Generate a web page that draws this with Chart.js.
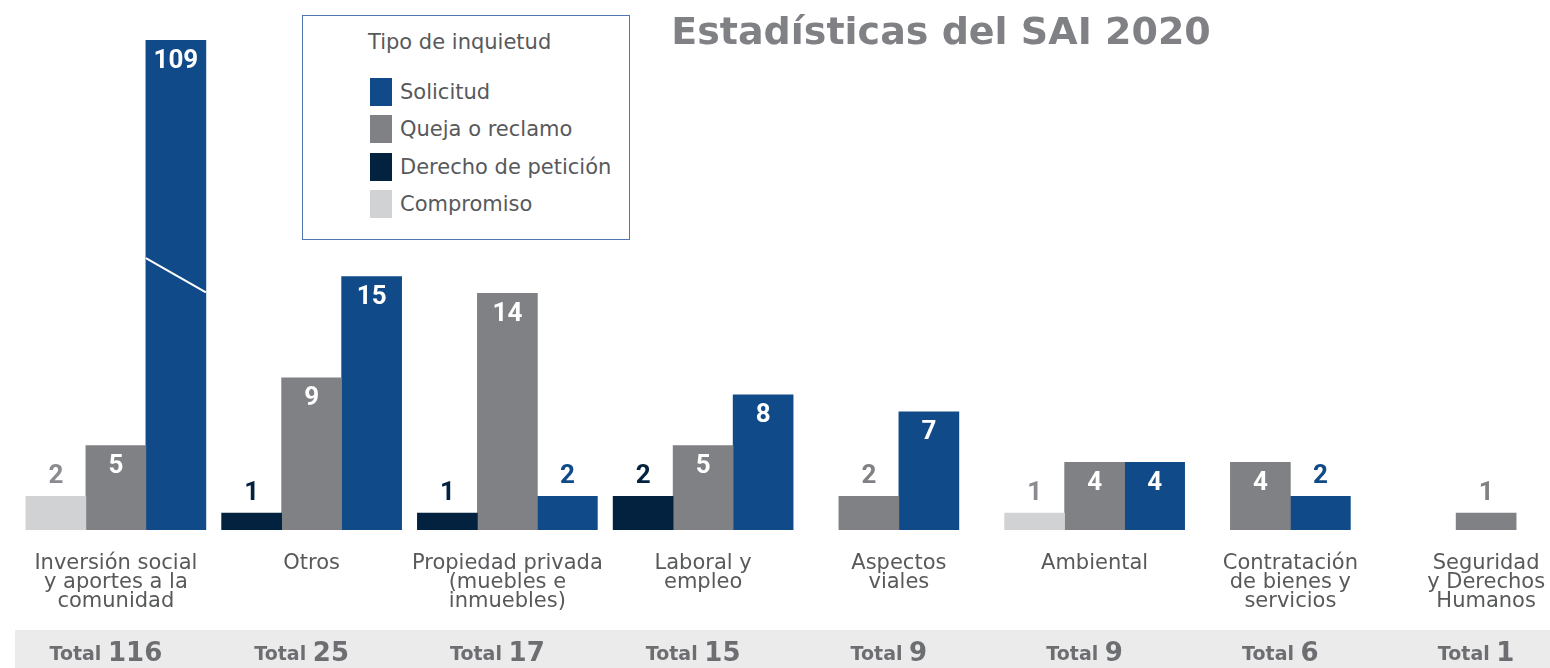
<!DOCTYPE html>
<html lang="es">
<head>
<meta charset="utf-8">
<title>Estadísticas del SAI 2020</title>
<script src="https://cdn.jsdelivr.net/npm/chart.js@4/dist/chart.umd.min.js"></script>
<style>
  html, body { margin: 0; padding: 0; background: #fff; overflow: hidden; }
  .wrap { position: relative; width: 1550px; height: 668px; overflow: hidden; }
  #myChart { position: absolute; left: 0; top: 0; }
  .title {
    position: absolute; left: 641px; top: 9px; width: 600px;
    text-align: center; white-space: nowrap;
    font: bold 38px "DejaVu Sans", sans-serif; color: #808184;
  }
  .legend {
    position: absolute; left: 302px; top: 15px; width: 326px; height: 223px;
    border: 1px solid #4f77b3; background: #fff;
    font-family: "DejaVu Sans", sans-serif; color: #58595b;
  }
  .legend h4 { margin: 0; position: absolute; left: 65px; top: 14px; font-size: 21px; font-weight: normal; }
  .legend ul { list-style: none; margin: 0; padding: 0; position: absolute; left: 67px; top: 57px; }
  .legend li { display: flex; align-items: center; height: 37.5px; font-size: 21px; white-space: nowrap; }
  .legend li span { display: inline-block; width: 22px; height: 28px; margin-right: 8px; }
</style>
</head>
<body>
<div class="wrap">
  <canvas id="myChart" width="1590" height="668"></canvas>
  <div class="legend" id="legend"><h4>Tipo de inquietud</h4><ul></ul></div>
  <div class="title">Estadísticas del SAI 2020</div>
</div>
<script>
'use strict';

// -------------------- data --------------------
const categories = [
  ['Inversión social', 'y aportes a la', 'comunidad'],
  'Otros',
  ['Propiedad privada', '(muebles e', 'inmuebles)'],
  ['Laboral y', 'empleo'],
  ['Aspectos', 'viales'],
  'Ambiental',
  ['Contratación', 'de bienes y', 'servicios'],
  ['Seguridad', 'y Derechos', 'Humanos']
];
const compromiso = [2, null, null, null, null, 1, null, null];
const derecho    = [null, 1, 1, 2, null, null, null, null];
const queja      = [5, 9, 14, 5, 2, 4, 4, 1];
const solicitud  = [109, 15, 2, 8, 7, 4, 2, null];
const seriesNames = ['Compromiso', 'Derecho de petición', 'Queja o reclamo', 'Solicitud'];
const yMax = 29; // la barra de 109 se corta

const colors = ['#d1d2d4', '#02223f', '#808184', '#104a89'];
const outsideColors = ['#8a8b8e', '#02223f', '#808184', '#104a89'];

// -------------------- plugins --------------------
{
  var htmlLegend = {
    id: 'htmlLegend',
    afterUpdate(chart) {
      const ul = document.querySelector('#legend ul');
      ul.innerHTML = '';
      // leyenda en orden inverso (Solicitud arriba)
      chart.data.datasets.slice().reverse().forEach(ds => {
        const li = document.createElement('li');
        const box = document.createElement('span');
        box.style.background = ds.backgroundColor;
        li.appendChild(box);
        li.appendChild(document.createTextNode(ds.label));
        ul.appendChild(li);
      });
    }
  };

  var barLabels = {
    id: 'barLabels',
    afterDatasetsDraw(chart) {
      const {ctx, chartArea} = chart;
      ctx.save();
      ctx.font = 'bold 26px "Liberation Sans Narrow", "Roboto", sans-serif';
      ctx.textAlign = 'center';
      ctx.textBaseline = 'middle';
      chart.data.datasets.forEach((ds, i) => {
        const meta = chart.getDatasetMeta(i);
        meta.data.forEach((bar, j) => {
          const v = ds.data[j];
          if (v === null) return;
          const top = Math.max(bar.y, chartArea.top);
          // corte de la barra que supera la escala
          if (v > yMax) {
            ctx.save();
            ctx.strokeStyle = '#fff';
            ctx.lineWidth = 2;
            const h = chartArea.bottom - chartArea.top;
            ctx.beginPath();
            ctx.moveTo(bar.x - bar.width / 2, chartArea.top + h * 0.445);
            ctx.lineTo(bar.x + bar.width / 2, chartArea.top + h * 0.515);
            ctx.stroke();
            ctx.restore();
          }
          const inside = v >= 4 && i !== 0;
          if (inside) {
            ctx.fillStyle = '#fff';
            ctx.fillText(String(v), bar.x, top + 21);
          } else {
            ctx.fillStyle = outsideColors[i];
            ctx.fillText(String(v), bar.x, top - 20);
          }
        });
      });
      ctx.restore();
    }
  };

  var totalsRow = {
    id: 'totalsRow',
    afterDraw(chart) {
      const {ctx, chartArea, scales} = chart;
      const y0 = chartArea.bottom + 100;
      ctx.save();
      ctx.fillStyle = '#ebebeb';
      ctx.fillRect(15, y0, chart.width, 38);
      ctx.textBaseline = 'alphabetic';
      ctx.fillStyle = '#6d6e71';
      categories.forEach((c, j) => {
        const total = [compromiso, derecho, queja, solicitud]
          .reduce((s, arr) => s + (arr[j] || 0), 0);
        const x = scales.x.getPixelForValue(j) - 10;
        ctx.font = 'bold 19px "DejaVu Sans", sans-serif';
        const w1 = ctx.measureText('Total ').width;
        ctx.font = 'bold 26px "DejaVu Sans", sans-serif';
        const w2 = ctx.measureText(String(total)).width;
        let left = x - (w1 + w2) / 2;
        ctx.textAlign = 'left';
        ctx.font = 'bold 19px "DejaVu Sans", sans-serif';
        ctx.fillText('Total ', left, y0 + 30);
        ctx.font = 'bold 26px "DejaVu Sans", sans-serif';
        ctx.fillText(String(total), left + w1, y0 + 31);
      });
      ctx.restore();
    }
  };
}

// -------------------- Chart.js --------------------
{
  const series = [compromiso, derecho, queja, solicitud];
  const ctx = document.getElementById('myChart').getContext('2d');
  const myChart = new Chart(ctx, {
    type: 'bar',
    data: {
      labels: categories,
      datasets: series.map((d, i) => ({
        label: seriesNames[i],
        data: d,
        backgroundColor: colors[i],
        borderWidth: 0,
        barThickness: 60,
        skipNull: true
      }))
    },
    options: {
      responsive: false,
      animation: false,
      layout: {
        padding: {top: 40, left: 18, right: 6, bottom: 0}
      },
      plugins: {
        legend: {display: false},
        tooltip: {enabled: false}
      },
      scales: {
        x: {
          grid: {display: false},
          border: {display: false},
          ticks: {
            color: '#58595b',
            font: {family: '"DejaVu Sans", sans-serif', size: 21, lineHeight: 0.91},
            padding: 16,
            maxRotation: 0,
            autoSkip: false
          },
          afterFit(scale) {
            scale.height = 138;
          }
        },
        y: {
          display: false,
          min: 0,
          max: yMax
        }
      }
    },
    plugins: [htmlLegend, barLabels, totalsRow]
  });
}
</script>
</body>
</html>
